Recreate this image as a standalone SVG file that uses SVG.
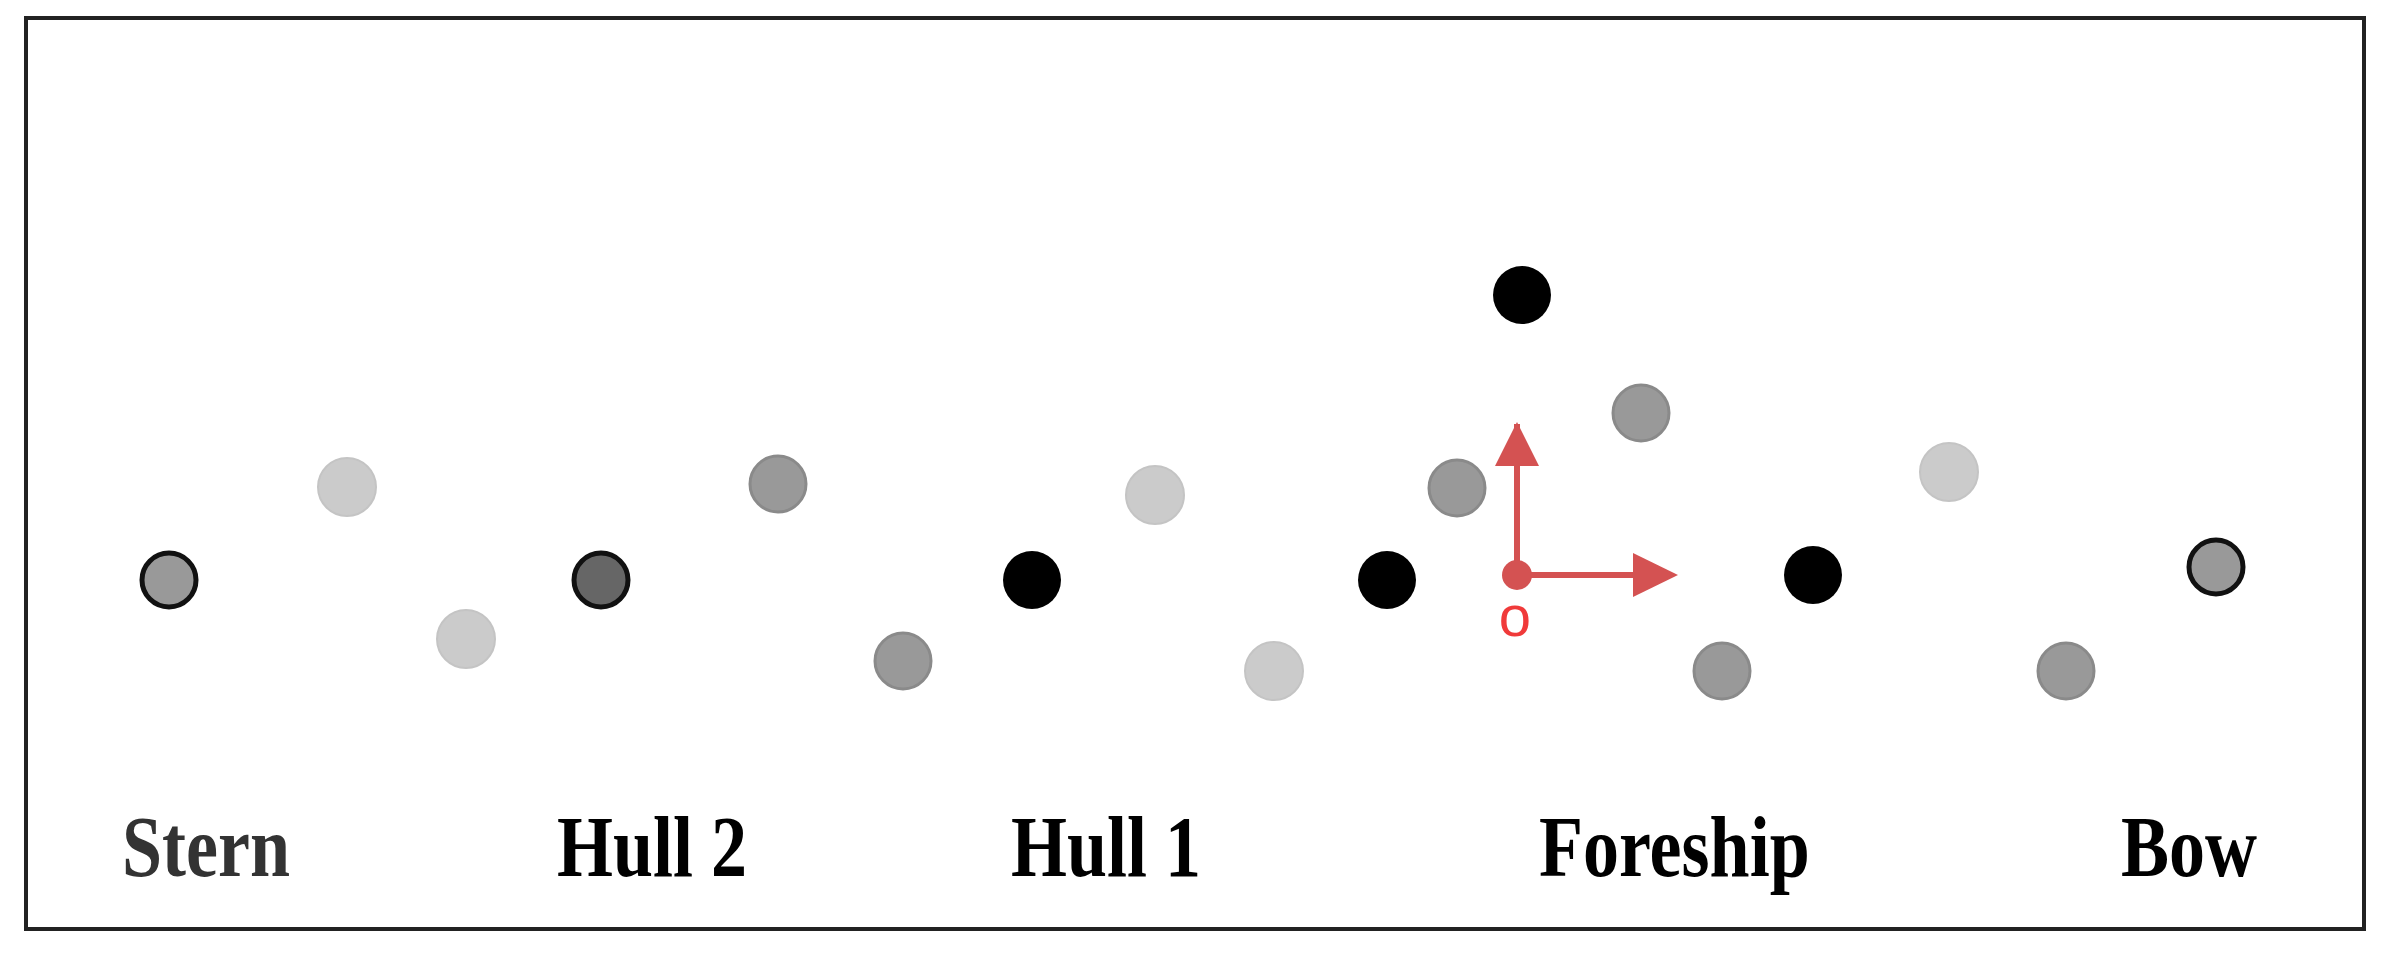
<svg xmlns="http://www.w3.org/2000/svg" width="2387" height="954" viewBox="0 0 2387 954">
<style>
.light{fill:#cbcbcb;stroke:#c4c4c4;stroke-width:2}
.mid{fill:#999999;stroke:#8a8a8a;stroke-width:3}
.blk{fill:#000}
.ring{stroke:#111;stroke-width:5}
.lbl{font-family:"Liberation Serif","Times New Roman",serif;font-weight:bold;font-size:72px;fill:#000}
</style>
<rect x="26" y="18" width="2338" height="911" fill="#fff" stroke="#222" stroke-width="4"/>
<g id="points">
<circle id="p-stern" cx="169" cy="580" r="27" class="mid ring"/>
<circle cx="347" cy="487" r="29" class="light"/>
<circle cx="466" cy="639" r="29" class="light"/>
<circle id="p-hull2" cx="601" cy="580" r="27" class="ring" fill="#666"/>
<circle cx="778" cy="484" r="28" class="mid"/>
<circle cx="903" cy="661" r="28" class="mid"/>
<circle id="p-hull1" cx="1032" cy="580" r="29" class="blk"/>
<circle cx="1155" cy="495" r="29" class="light"/>
<circle cx="1274" cy="671" r="29" class="light"/>
<circle id="p-fore1" cx="1387" cy="580" r="29" class="blk"/>
<circle cx="1457" cy="488" r="28" class="mid"/>
<circle cx="1522" cy="295" r="29" class="blk"/>
<circle cx="1641" cy="413" r="28" class="mid"/>
<circle cx="1722" cy="671" r="28" class="mid"/>
<circle id="p-fore2" cx="1813" cy="575" r="29" class="blk"/>
<circle cx="1949" cy="472" r="29" class="light"/>
<circle cx="2066" cy="671" r="28" class="mid"/>
<circle id="p-bow" cx="2216" cy="567" r="27" class="mid ring"/>
</g>
<g id="axes">
<line x1="1517" y1="575" x2="1517" y2="424" stroke="#d45252" stroke-width="6"/>
<path d="M1517,422 L1539,466 L1495,466 z" fill="#d45252"/>
<line x1="1517" y1="575" x2="1672" y2="575" stroke="#d45252" stroke-width="6"/>
<path d="M1678,575 L1633,553 L1633,597 z" fill="#d45252"/>
<circle cx="1517" cy="575" r="15" fill="#d45252"/>
<text x="1515" y="636" text-anchor="middle" font-family="Liberation Sans, Arial, sans-serif" font-size="58" fill="#f03a3a">o</text>
</g>
<g id="labels">
<text class="lbl" transform="translate(122,876) scale(1,1.2)" style="fill:#333">Stern</text>
<text class="lbl" transform="translate(557,876) scale(1,1.2)">Hull 2</text>
<text class="lbl" transform="translate(1011,876) scale(1,1.2)">Hull 1</text>
<text class="lbl" transform="translate(1539,876) scale(1,1.2)">Foreship</text>
<text class="lbl" transform="translate(2121,876) scale(1,1.2)">Bow</text>
</g>
</svg>
